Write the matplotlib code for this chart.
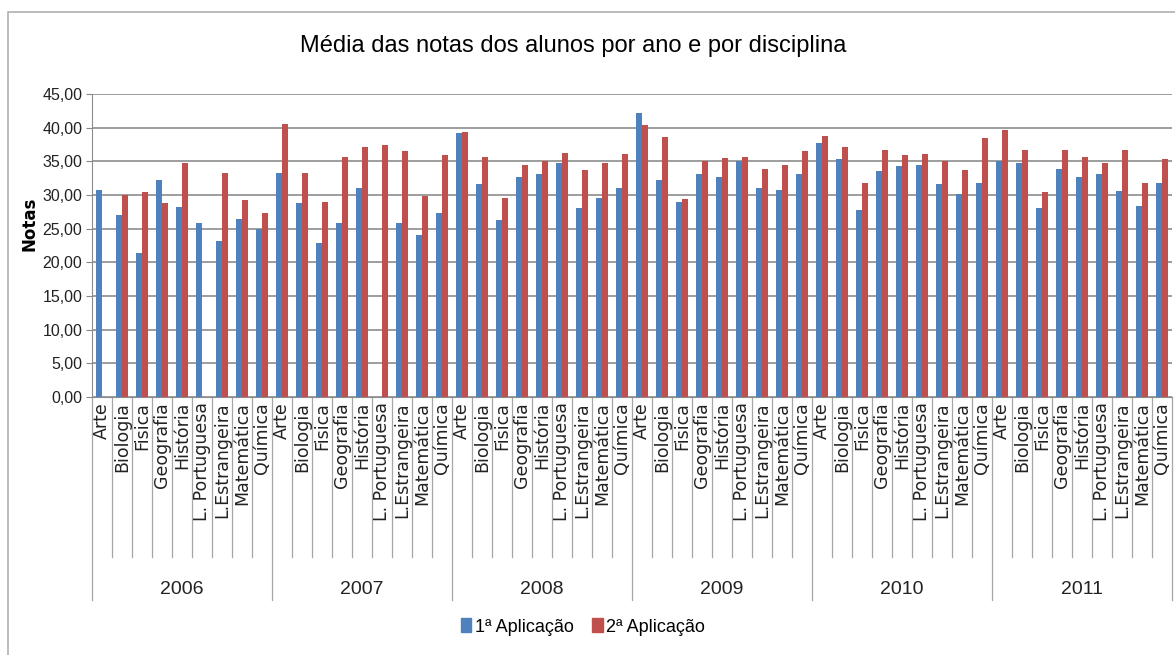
import matplotlib
matplotlib.use("Agg")
import matplotlib.pyplot as plt
import matplotlib.transforms as mtransforms
from matplotlib.patches import Rectangle, Patch
import numpy as np

anos = ["2006", "2007", "2008", "2009", "2010", "2011"]
disciplinas = ["Arte", "Biologia", "Fisica", "Geografia", "História",
               "L. Portuguesa", "L.Estrangeira", "Matemática", "Química"]

# 1ª aplicação (0 = sem barra)
aplic1 = [30.8, 27.1, 21.4, 32.3, 28.2, 25.9, 23.1, 26.5, 25.0,
          33.2, 28.8, 22.9, 25.9, 31.0, 0.0, 25.9, 24.1, 27.3,
          39.2, 31.6, 26.3, 32.7, 33.1, 34.7, 28.0, 29.6, 31.0,
          42.2, 32.3, 29.0, 33.1, 32.7, 35.0, 31.0, 30.8, 33.1,
          37.7, 35.3, 27.8, 33.5, 34.3, 34.5, 31.6, 30.2, 31.8,
          35.0, 34.7, 28.0, 33.9, 32.7, 33.1, 30.6, 28.4, 31.8]
# 2ª aplicação
aplic2 = [0.0, 30.0, 30.4, 28.8, 34.7, 0.0, 33.2, 29.2, 27.3,
          40.6, 33.2, 29.0, 35.7, 37.1, 37.5, 36.5, 29.8, 35.9,
          39.4, 35.7, 29.6, 34.5, 35.0, 36.3, 33.7, 34.7, 36.1,
          40.4, 38.6, 29.4, 35.0, 35.5, 35.7, 33.9, 34.5, 36.5,
          38.8, 37.1, 31.8, 36.7, 35.9, 36.1, 35.0, 33.7, 38.4,
          39.6, 36.7, 30.4, 36.7, 35.7, 34.7, 36.7, 31.8, 35.3]

azul = "#4F81BD"
vermelho = "#C0504D"
fonte = ["Liberation Sans", "DejaVu Sans"]

W, H = 1175, 655
fig = plt.figure(figsize=(W / 100, H / 100), dpi=100)
ax = fig.add_axes([92 / W, 1 - 397 / H, (1172 - 92) / W, (397 - 94) / H])

n = len(aplic1)
x = np.arange(n)
bw = 0.28
ax.bar(x - bw / 2, aplic1, bw, color=azul, zorder=3)
ax.bar(x + bw / 2, aplic2, bw, color=vermelho, zorder=3)

ax.set_xlim(-0.5, n - 0.5)
ax.set_ylim(0, 45)
ax.set_yticks(np.arange(0, 46, 5))
ax.set_yticklabels([f"{v:.2f}".replace(".", ",") for v in np.arange(0, 46, 5)],
                   family=fonte, fontsize=11.5, color="#222222")
ax.tick_params(axis="y", length=4, color="#888888", pad=3)
ax.set_xticks([])
ax.grid(axis="y", color="#8c8c8c", linewidth=1.2, zorder=0)
for s in ["top", "right"]:
    ax.spines[s].set_visible(False)
ax.spines["left"].set_color("#8c8c8c")
ax.spines["bottom"].set_color("#8c8c8c")

# eixo de categorias em dois níveis
trans = mtransforms.blended_transform_factory(ax.transData, ax.transAxes)
per_px = 1 / (397 - 94)
y_cat_end = -(557 - 397) * per_px
y_ano_end = -(600 - 397) * per_px
for i in range(n + 1):
    b = i - 0.5
    fim = y_ano_end if i % len(disciplinas) == 0 else y_cat_end
    ax.plot([b, b], [0, fim], color="#a6a6a6", linewidth=0.9,
            transform=trans, clip_on=False)
for i in range(n):
    ax.text(i, -5 * per_px, disciplinas[i % len(disciplinas)], rotation=90,
            ha="center", va="top", fontsize=12.5, family="DejaVu Sans",
            color="#222222", transform=trans)
for k, ano in enumerate(anos):
    c = k * len(disciplinas) + (len(disciplinas) - 1) / 2
    ax.text(c, -(590 - 397) * per_px, ano, ha="center", va="center",
            fontsize=14, family=fonte, color="#222222", transform=trans)

fig.text(573 / W, 1 - 46 / H,
         "Média das notas dos alunos por ano e por disciplina",
         ha="center", va="center", fontsize=17, family=fonte)
fig.text(30 / W, 1 - 224 / H, "Notas", rotation=90, ha="center",
         va="center", fontsize=12, fontweight="bold", family="DejaVu Sans")

handles = [Patch(color=azul, label="1ª Aplicação"),
           Patch(color=vermelho, label="2ª Aplicação")]
fig.legend(handles=handles, loc="center", bbox_to_anchor=(583 / W, 1 - 627 / H),
           ncol=2, frameon=False, handlelength=0.6, handleheight=0.8,
           handletextpad=0.2, columnspacing=1.0,
           prop={"family": fonte, "size": 13})

fig.patches.append(Rectangle((8 / W, -0.05), 1.1, 1 - 12 / H + 0.05,
                             transform=fig.transFigure, fill=False,
                             edgecolor="#b0b0b0", linewidth=1.2))

fig.savefig("out.png", dpi=100)
